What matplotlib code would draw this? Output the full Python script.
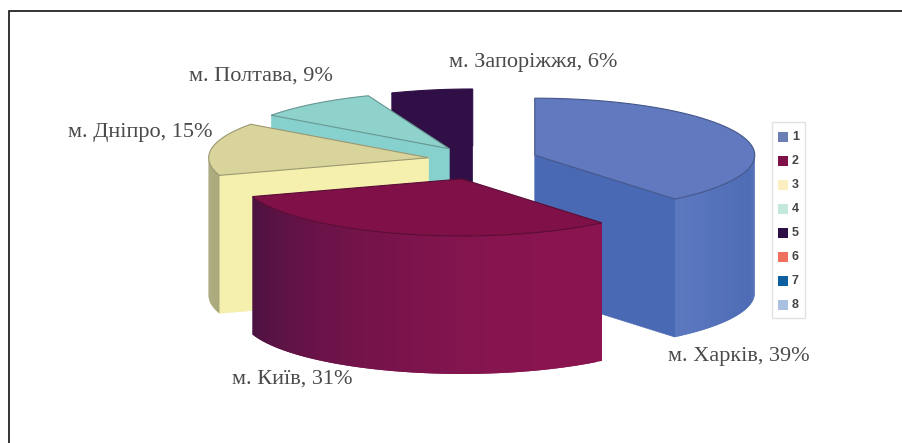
import numpy as np
import matplotlib
matplotlib.use("Agg")
import matplotlib.pyplot as plt
from matplotlib.colors import to_rgb
from matplotlib.patches import Polygon, Rectangle

labels = ["м. Харків, 39%", "м. Київ, 31%", "м. Дніпро, 15%", "м. Полтава, 9%", "м. Запоріжжя, 6%"]
shares = [39, 31, 15, 9, 6]
explode = [0.25, 0.346, 0.25, 0.25, 0.25]
top_colors = ["#6079bf", "#7f1148", "#d9d49c", "#8fd2cb", "#2f0f45"]
wall_colors = ["#4a69b4", "#7f1148", "#f5f0ae", "#86d0cd", "#2f0f45"]
rim_colors = [("#4e6cb5", "#5c79c0"), ("#8a1450", "#4a1240"), ("#a6a676", "#a6a676"),
              ("#86d0cd", "#86d0cd"), ("#2f0f45", "#2f0f45")]
edge_shade = [0.72, 0.72, 0.72, 0.72, 1.0]
legend_names = ["1", "2", "3", "4", "5", "6", "7", "8"]
legend_colors = ["#6b7fb5", "#7d1148", "#fbeec0", "#c5e8dc", "#2e0f45", "#f07060", "#0e5fa0", "#a9c0e0"]

# pie layout, in image pixels
CX, CY = 483, 160
RX, RY = 220, 57
DEPTH = 138
label_pos = [(739, 356), (292, 379), (140, 133), (261, 76), (533, 62)]


def project(cx, cy, theta, r=1.0):
    # theta is clockwise from 12 o'clock, in degrees
    t = np.radians(theta)
    return cx + r * RX * np.sin(t), cy - r * RY * np.cos(t)


def radial_wall(ax, cx, cy, theta, color):
    x, y = project(cx, cy, theta)
    pts = [(cx, cy), (x, y), (x, y + DEPTH), (cx, cy + DEPTH)]
    ax.add_patch(Polygon(pts, closed=True, fc=color, ec=color, lw=0.4))


def rim_wall(ax, cx, cy, a, b, c_start, c_end):
    # shaded strip along the front of the rim, each quad overlaps the next
    lo, hi = max(a, 90), min(b, 270)
    if hi <= lo:
        return
    steps = np.linspace(lo, hi, 60)
    c0, c1 = np.array(to_rgb(c_start)), np.array(to_rgb(c_end))
    for i in range(len(steps) - 1):
        x0, y0 = project(cx, cy, steps[i])
        x1, y1 = project(cx, cy, steps[min(i + 2, len(steps) - 1)])
        xm, ym = project(cx, cy, steps[i + 1])
        f = (steps[i] - lo) / (hi - lo)
        col = c0 + (c1 - c0) * f ** 2
        ax.add_patch(Polygon([(x0, y0), (xm, ym), (x1, y1), (x1, y1 + DEPTH), (xm, ym + DEPTH), (x0, y0 + DEPTH)],
                             closed=True, fc=col, ec="none"))


def draw_slice(ax, i, a, b):
    mid = (a + b) / 2
    cx, cy = project(CX, CY, mid, explode[i])
    if np.sin(np.radians(a)) < -1e-6:
        radial_wall(ax, cx, cy, a, wall_colors[i])
    if np.sin(np.radians(b)) > 1e-6:
        radial_wall(ax, cx, cy, b, wall_colors[i])
    rim_wall(ax, cx, cy, a, b, *rim_colors[i])
    arc = [project(cx, cy, t) for t in np.linspace(a, b, 80)]
    edge = tuple(np.array(to_rgb(top_colors[i])) * edge_shade[i])
    ax.add_patch(Polygon([(cx, cy)] + arc, closed=True, fc=top_colors[i], ec=edge, lw=0.8))


fig = plt.figure(figsize=(9.03, 4.43), dpi=100)
ax = fig.add_axes([0, 0, 1, 1])
ax.set_xlim(0, 903)
ax.set_ylim(443, 0)
ax.axis("off")

# only the top and left frame lines are inside the crop
ax.plot([903, 9.5, 9.5], [10.5, 10.5, 443], color="#111111", lw=1.2, solid_joinstyle="miter")

edges = np.cumsum([0] + shares) * 3.6
# back to front so nearer slices cover the ones behind
for i in [4, 3, 2, 0, 1]:
    draw_slice(ax, i, edges[i], edges[i + 1])

for name, (x, y) in zip(labels, label_pos):
    ax.text(x, y, name, family="Liberation Serif", fontsize=16, color="#4a4a4a",
            ha="center", va="center")

ax.add_patch(Rectangle((772, 122), 33, 196, fc="white", ec="#e2e2e2", lw=1.0))
for k, (name, col) in enumerate(zip(legend_names, legend_colors)):
    y = 137 + 24 * k
    ax.add_patch(Rectangle((778, y - 5), 10, 10, fc=col, ec="none"))
    ax.text(792, y, name, family="Liberation Sans", fontsize=9, fontweight="bold", color="#444444",
            ha="left", va="center")

fig.savefig("out.png", dpi=100)
